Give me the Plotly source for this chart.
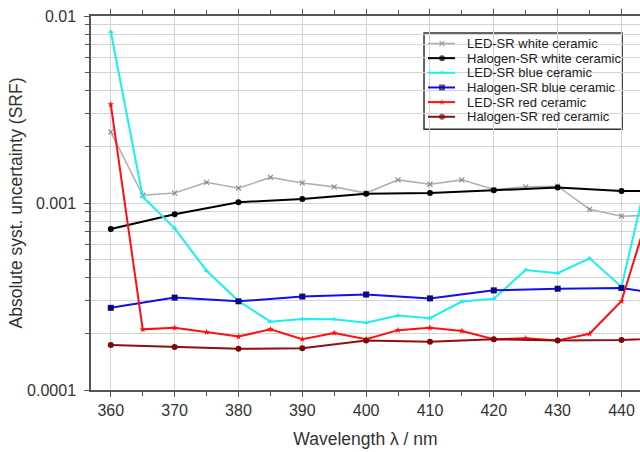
import plotly.graph_objects as go

# Wavelengths (nm)
wl_led = [360, 365, 370, 375, 380, 385, 390, 395, 400, 405, 410, 415, 420, 425, 430, 435, 440, 445]
wl_hal = [360, 370, 380, 390, 400, 410, 420, 430, 440, 450]

# Series values
led_white = [0.0024, 0.00110, 0.00113, 0.00129, 0.00120, 0.00137, 0.00128, 0.00122, 0.00113,
             0.00133, 0.00126, 0.00133, 0.00118, 0.00122, 0.00123, 0.000925, 0.00085, 0.00086]
hal_white = [0.000726, 0.000870, 0.00101, 0.00105, 0.00112, 0.00113, 0.00117, 0.00121, 0.00116, 0.00116]
led_blue = [0.00824, 0.00108, 0.000732, 0.000434, 0.000299, 0.000232, 0.000240, 0.000239, 0.000229,
            0.000250, 0.000242, 0.000297, 0.000308, 0.000438, 0.000421, 0.000506, 0.000357, 0.0019]
hal_blue = [0.000275, 0.000312, 0.000298, 0.000316, 0.000324, 0.000309, 0.000341, 0.000348, 0.000351, 0.000313]
led_red = [0.00337, 0.000211, 0.000215, 0.000204, 0.000193, 0.000211, 0.000187, 0.000202, 0.000187,
           0.000209, 0.000215, 0.000207, 0.000187, 0.000189, 0.000184, 0.000200, 0.000299, 0.00107]
hal_red = [0.000174, 0.000170, 0.000166, 0.000167, 0.000184, 0.000181, 0.000187, 0.000184, 0.000185, 0.000192]

series_names = ["LED-SR white ceramic", "Halogen-SR white ceramic", "LED-SR blue ceramic",
                "Halogen-SR blue ceramic", "LED-SR red ceramic", "Halogen-SR red ceramic"]

y_major = [0.0001, 0.001, 0.01]
y_major_text = ["0.0001", "0.001", "0.01"]
y_minor = [m * 10 ** e for e in (-4, -3) for m in range(2, 10)]
x_major = [360, 370, 380, 390, 400, 410, 420, 430, 440]

# Styles: (line colour, marker colour, symbol, marker size, line width)
styles = [
    ("#b0b0b0", "#8a8a8a", "x-thin-open", 5, 1.6),
    ("#000000", "#000000", "circle", 6, 2),
    ("#19f0f0", "#19f0f0", "triangle-up", 5, 2),
    ("#1010ee", "#0a0a80", "square", 6, 2),
    ("#ff1010", "#ff1010", "star", 5, 2),
    ("#8b1010", "#7a0a0a", "circle", 6, 2),
]
xs = [wl_led, wl_hal, wl_led, wl_hal, wl_led, wl_hal]
ys = [led_white, hal_white, led_blue, hal_blue, led_red, hal_red]

fig = go.Figure()

for x, y, name, (lc, mc, sym, ms, lw) in zip(xs, ys, series_names, styles):
    mline = dict(color=mc, width=1.2) if sym.endswith("open") else dict(width=0)
    fig.add_trace(go.Scatter(
        x=x, y=y, name=name, mode="lines+markers", showlegend=False,
        line=dict(color=lc, width=lw),
        marker=dict(color=mc, symbol=sym, size=ms, line=mline),
    ))

# Custom legend (compact, like the original), drawn in plot-fraction coordinates
L_LEFT, L_RIGHT, L_TOP, L_BOT = 0.6066, 0.9675, 0.9545, 0.6975
SAMPLE_X = [0.6138, 0.6393, 0.6630]
TEXT_X = 0.6815
ROW_Y0, ROW_DY = 0.9265, 0.0392

fig.add_shape(type="rect", xref="paper", yref="paper",
              x0=L_LEFT, x1=L_RIGHT, y0=L_BOT, y1=L_TOP,
              fillcolor="white", line=dict(color="#333333", width=1.5), layer="between")

for i, (name, (lc, mc, sym, ms, lw)) in enumerate(zip(series_names, styles)):
    yy = ROW_Y0 - i * ROW_DY
    mline = dict(color=mc, width=1.2) if sym.endswith("open") else dict(width=0)
    fig.add_trace(go.Scatter(
        x=SAMPLE_X, y=[yy] * 3, xaxis="x2", yaxis="y2", mode="lines+markers",
        showlegend=False, hoverinfo="skip",
        line=dict(color=lc, width=lw),
        marker=dict(color=mc, symbol=sym, size=[0, ms, 0], line=mline),
    ))
    fig.add_annotation(x=TEXT_X, y=yy, xref="paper", yref="paper", text=name,
                       showarrow=False, xanchor="left", yanchor="middle",
                       font=dict(size=13, color="#222222"))

fig.update_layout(
    width=640, height=452,
    margin=dict(l=91, r=0, t=16, b=62),
    paper_bgcolor="white", plot_bgcolor="white",
    font=dict(family="Liberation Sans, Arial, sans-serif", size=16, color="#333333"),
    showlegend=False,
    xaxis2=dict(overlaying="x", range=[0, 1], visible=False, fixedrange=True),
    yaxis2=dict(overlaying="y", range=[0, 1], visible=False, fixedrange=True),
)

fig.layout.xaxis.update(
    range=[356.9, 442.9],
    tickmode="array", tickvals=x_major,
    ticks="outside", ticklen=5, tickcolor="#555555",
    showline=True, linecolor="#555555", linewidth=1.5, mirror="ticks",
    showgrid=True, gridcolor="#d4d4d4", gridwidth=1,
    minor=dict(dtick=5, tick0=360, ticks="outside", ticklen=4, tickcolor="#555555", showgrid=False),
    tickfont=dict(size=16, color="#333333"),
    title=dict(text="Wavelength λ / nm", font=dict(size=17.5, color="#333333"), standoff=15),
    zeroline=False,
)

fig.layout.yaxis.update(
    type="log", range=[-4, -2],
    tickmode="array", tickvals=y_major, ticktext=y_major_text,
    ticks="outside", ticklen=5, tickcolor="#555555",
    showline=True, linecolor="#555555", linewidth=1.5,
    showgrid=True, gridcolor="#d4d4d4", gridwidth=1,
    minor=dict(tickmode="array", tickvals=y_minor, ticks="outside", ticklen=4,
               tickcolor="#555555", showgrid=True, gridcolor="#d4d4d4", gridwidth=1),
    tickfont=dict(size=16, color="#333333"),
    ticklabelstandoff=5,
    title=dict(text="Absolute syst. uncertainty (SRF)", font=dict(size=17.5, color="#333333"), standoff=0),
    zeroline=False,
)

fig.write_html("out.html")
